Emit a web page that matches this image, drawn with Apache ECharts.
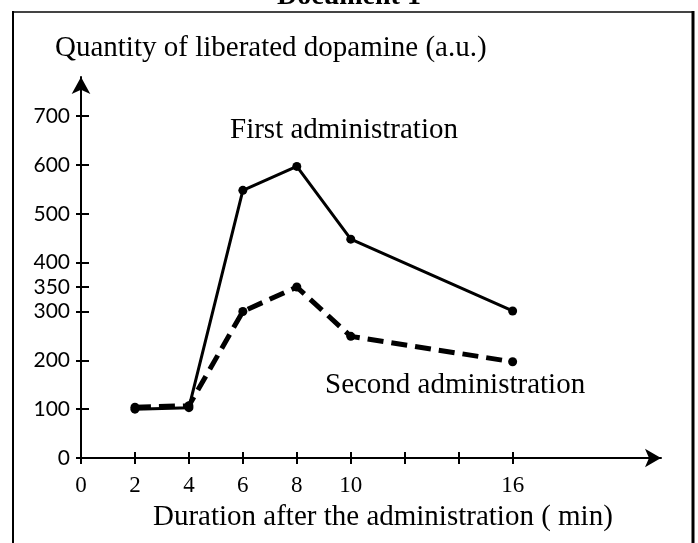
<!DOCTYPE html>
<html>
<head>
<meta charset="utf-8">
<script src="https://cdn.jsdelivr.net/npm/echarts@6/dist/echarts.min.js"></script>
<style>
html,body{margin:0;padding:0;background:#fff;}
#chart{width:698px;height:543px;}
</style>
</head>
<body>
<div id="chart"></div>
<script>
// data
var timeMin = [2, 4, 6, 8, 10, 16];
var firstAdmin = [100, 103, 548, 597, 448, 301];
var secondAdmin = [104, 107, 300, 350, 249, 197];
var xTickValues = [0, 2, 4, 6, 8, 10, 12, 14, 16];
var xLabelValues = [0, 2, 4, 6, 8, 10, 16];
var yTickValues = [0, 100, 200, 300, 350, 400, 500, 600, 700];

var serif = '"Liberation Serif", "DejaVu Serif", serif';

function pairs(xs, ys) {
	var out = [];
	for (var i = 0; i < xs.length; i++) out.push([xs[i], ys[i]]);
	return out;
}

var myChart = echarts.init(document.getElementById('chart'));
var option = {
	animation: false,
	grid: {
		left: 81,
		top: 77,
		width: 580,
		bottom: 85
	},
	xAxis: [
		{
			type: 'value',
			position: 'bottom',
			min: 0,
			max: 21.5,
			splitLine: { show: false },
			axisLine: {
				onZero: false,
				symbol: ['none', 'arrow'],
				symbolSize: [14, 16],
				lineStyle: { color: '#000', width: 2 }
			},
			axisTick: {
				inside: true,
				length: 6,
				customValues: xTickValues,
				lineStyle: { color: '#000', width: 2 }
			},
			axisLabel: { show: false }
		},
		{
			type: 'value',
			position: 'bottom',
			min: 0,
			max: 21.5,
			splitLine: { show: false },
			axisLine: { show: false, onZero: false },
			axisTick: {
				length: 6,
				customValues: xTickValues,
				lineStyle: { color: '#000', width: 2 }
			},
			axisLabel: {
				customValues: xLabelValues,
				margin: 16,
				color: '#000',
				fontFamily: serif,
				fontSize: 23
			}
		}
	],
	yAxis: [
		{
			type: 'value',
			position: 'left',
			min: 0,
			max: 780,
			splitLine: { show: false },
			axisLine: {
				show: true,
				onZero: false,
				symbol: ['none', 'arrow'],
				symbolSize: [14, 17],
				lineStyle: { color: '#000', width: 2 }
			},
			axisTick: {
				show: true,
				inside: true,
				length: 8,
				customValues: yTickValues,
				lineStyle: { color: '#000', width: 2 }
			},
			axisLabel: { show: false }
		},
		{
			type: 'value',
			position: 'left',
			min: 0,
			max: 780,
			splitLine: { show: false },
			axisLine: { show: false, onZero: false },
			axisTick: {
				show: true,
				length: 5,
				customValues: yTickValues,
				lineStyle: { color: '#000', width: 2 }
			},
			axisLabel: {
				customValues: yTickValues,
				margin: 11,
				color: '#000',
				fontFamily: 'Lato',
				fontSize: 21
			}
		}
	],
	series: [
		{
			name: 'First administration',
			type: 'line',
			data: pairs(timeMin, firstAdmin),
			symbol: 'circle',
			symbolSize: 9,
			itemStyle: { color: '#000' },
			lineStyle: { color: '#000', width: 3 }
		},
		{
			name: 'Second administration',
			type: 'line',
			data: pairs(timeMin, secondAdmin),
			symbol: 'circle',
			symbolSize: 9,
			itemStyle: { color: '#000' },
			lineStyle: { color: '#000', width: 5, type: [16, 8] }
		}
	],
	graphic: [
		// frame
		{ type: 'line', shape: { x1: 12, y1: 12, x2: 694, y2: 12 }, style: { stroke: '#444', lineWidth: 2 } },
		{ type: 'line', shape: { x1: 13, y1: 11, x2: 13, y2: 560 }, style: { stroke: '#000', lineWidth: 2 } },
		{ type: 'line', shape: { x1: 693, y1: 11, x2: 693, y2: 560 }, style: { stroke: '#000', lineWidth: 3 } },
		{ type: 'text', left: 'center', top: -17, style: { text: 'Document 1', font: 'bold 28px ' + serif, fill: '#000' } },
		{ type: 'text', left: 55, top: 34, style: { text: 'Quantity of liberated dopamine (a.u.)', font: '29px ' + serif, fill: '#000' } },
		{ type: 'text', left: 153, top: 503, style: { text: 'Duration after the administration ( min)', font: '29px ' + serif, fill: '#000' } },
		{ type: 'text', left: 230, top: 116, style: { text: 'First administration', font: '29px ' + serif, fill: '#000' } },
		{ type: 'text', left: 325, top: 371, style: { text: 'Second administration', font: '29px ' + serif, fill: '#000' } }
	]
};
myChart.setOption(option);
</script>
</body>
</html>
